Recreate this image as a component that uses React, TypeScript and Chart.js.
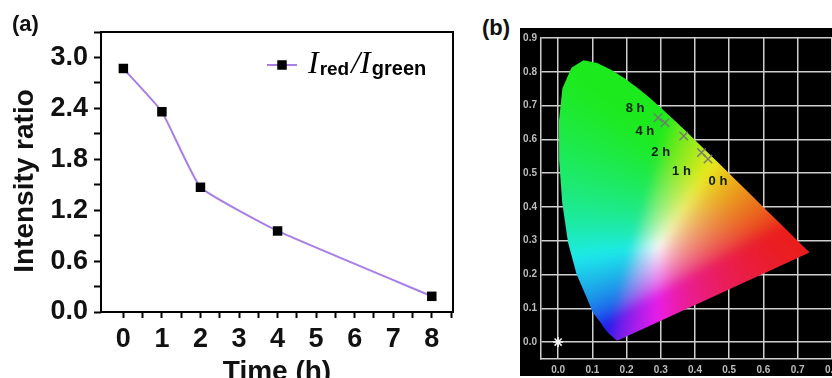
import React, { useEffect, useRef } from "react";
import { Chart, registerables } from "chart.js";

Chart.register(...registerables);

// ---------- Panel (a) data ----------
const TIME_H = [0, 1, 2, 4, 8];
const RATIO = [2.87, 2.36, 1.47, 0.955, 0.185];
const SERIES_LABEL = "Ired/Igreen";
const A_X_TICKS = [0, 0.5, 1, 1.5, 2, 2.5, 3, 3.5, 4, 4.5, 5, 5.5, 6, 6.5, 7, 7.5, 8, 8.5];
const A_Y_TICKS = [0, 0.3, 0.6, 0.9, 1.2, 1.5, 1.8, 2.1, 2.4, 2.7, 3.0, 3.3];

// ---------- Panel (b) data ----------
const LOCUS_X = [
  0.1741, 0.174, 0.1738, 0.1736, 0.1733, 0.173, 0.1726, 0.1721,
  0.1714, 0.1703, 0.1689, 0.1669, 0.1644, 0.1611, 0.1566, 0.151, 0.144, 0.1355, 0.1241, 0.102,
  0.083, 0.054, 0.029, 0.012, 0.003, 0.0025, 0.0125, 0.0389, 0.0743,
  0.1142, 0.1547, 0.1929, 0.2296, 0.2658, 0.3016, 0.3373, 0.3731, 0.4087, 0.4441, 0.4788, 0.5125, 0.5448, 0.5752, 0.6029, 0.627,
  0.6482, 0.6658, 0.6801, 0.6915, 0.7006, 0.7079,
  0.719, 0.726, 0.73, 0.7334, 0.7347,
];
const LOCUS_Y = [
  0.005, 0.005, 0.0049, 0.0049, 0.0048, 0.0048, 0.0048, 0.0048,
  0.0051, 0.0058, 0.0069, 0.0086, 0.0109, 0.0138, 0.0177, 0.0227, 0.0297, 0.0399, 0.0578, 0.0868,
  0.1327, 0.2007, 0.295, 0.4127, 0.5384, 0.6548, 0.7502, 0.812, 0.8338,
  0.8262, 0.8059, 0.7816, 0.7543, 0.7243, 0.6923, 0.6589, 0.6245, 0.5896, 0.5547, 0.5202, 0.4866, 0.4544, 0.4242, 0.3965, 0.3725,
  0.3514, 0.334, 0.3197, 0.3083, 0.2993, 0.292,
  0.2809, 0.274, 0.27, 0.2666, 0.2653,
];
const SAMPLE_LABELS = ["0 h", "1 h", "2 h", "4 h", "8 h"];
const SAMPLE_X = [0.438, 0.419, 0.367, 0.312, 0.292];
const SAMPLE_Y = [0.542, 0.561, 0.61, 0.649, 0.664];
const REF_X = [0];
const REF_Y = [0];
const B_X_TICKS = [0, 0.1, 0.2, 0.3, 0.4, 0.5, 0.6, 0.7, 0.8];
const B_Y_TICKS = [0, 0.1, 0.2, 0.3, 0.4, 0.5, 0.6, 0.7, 0.8, 0.9];

const SANS = '"Liberation Sans", Arial, sans-serif';
const SERIF = '"Liberation Serif", "Times New Roman", serif';
const LINE_COLOR = "#a97fe6";

// ---------- helpers ----------
function srgbGamma(v: number) {
  return v <= 0.0031308 ? 12.92 * v : 1.055 * Math.pow(v, 1 / 2.4) - 0.055;
}
function xyToLinear(cx: number, cy: number) {
  const yy = Math.max(cy, 0.002);
  const X = cx / yy;
  const Z = (1 - cx - yy) / yy;
  return [
    3.2406 * X - 1.5372 - 0.4986 * Z,
    -0.9689 * X + 1.8758 + 0.0415 * Z,
    0.0557 * X - 0.204 + 1.057 * Z,
  ];
}
const WHITE = xyToLinear(0.295, 0.285);

const fixedTicks = (vals: number[]) => (s: any) => {
  s.ticks = vals.map((value) => ({ value }));
};

// ---------- plugins ----------
const frameA = {
  id: "frameA",
  afterDraw(chart: any) {
    const { ctx, chartArea: a } = chart;
    ctx.save();
    ctx.strokeStyle = "#000";
    ctx.lineWidth = 2;
    ctx.strokeRect(a.left, a.top, a.right - a.left, a.bottom - a.top);

    ctx.fillStyle = "#111";
    ctx.font = `bold 28px ${SANS}`;
    ctx.textAlign = "center";
    ctx.textBaseline = "middle";
    ctx.translate(25, (a.top + a.bottom) / 2 + 9);
    ctx.rotate(-Math.PI / 2);
    ctx.fillText("Intensity ratio", 0, 0);
    ctx.restore();

    ctx.save();
    const ds = chart.data.datasets[0];
    const ly = a.top + 33;
    const lx = a.right - 186;
    ctx.strokeStyle = ds.borderColor;
    ctx.lineWidth = 2;
    ctx.beginPath();
    ctx.moveTo(lx, ly);
    ctx.lineTo(lx + 30, ly);
    ctx.stroke();
    ctx.fillStyle = "#000";
    ctx.fillRect(lx + 15 - 4.75, ly - 4.75, 9.5, 9.5);
    ctx.textBaseline = "alphabetic";
    ctx.textAlign = "left";
    let x = lx + 41;
    const base = ly + 8;
    const parts: [string, string, number][] = [
      ["I", `italic 32px ${SERIF}`, 0],
      ["red", `bold 19px ${SANS}`, 2],
      ["/", `italic 32px ${SERIF}`, 0],
      ["I", `italic 32px ${SERIF}`, 0],
      ["green", `bold 20px ${SANS}`, 2],
    ];
    parts.forEach(([t, f, dy], i) => {
      ctx.font = f;
      ctx.fillText(t, x, base + dy);
      x += ctx.measureText(t).width + (i === 0 || i === 3 ? 1 : i === 1 ? 2 : 0);
    });
    ctx.restore();
  },
};

const cieFill = {
  id: "cieFill",
  beforeDatasetsDraw(chart: any) {
    const { ctx, chartArea: a, scales } = chart;
    const sx = scales.x;
    const sy = scales.y;
    const w = Math.ceil(a.right - a.left);
    const h = Math.ceil(a.bottom - a.top);
    const off = document.createElement("canvas");
    off.width = w;
    off.height = h;
    const octx = off.getContext("2d")!;
    const img = octx.createImageData(w, h);
    const d = img.data;
    for (let j = 0; j < h; j++) {
      const cy = sy.getValueForPixel(a.top + j + 0.5);
      for (let i = 0; i < w; i++) {
        const cx = sx.getValueForPixel(a.left + i + 0.5);
        const lin = xyToLinear(cx, cy);
        let r = Math.max(lin[0] / WHITE[0], 0);
        let g = Math.max(lin[1] / WHITE[1], 0);
        let b = Math.max(lin[2] / WHITE[2], 0);
        const m = Math.max(r, g, b, 1e-6);
        r /= m; g /= m; b /= m;
        b = Math.pow(b, 1.5);
        r = Math.pow(r, 1.15);
        const mn = Math.min(r, g, b);
        const bright = 1 - 0.18 * (1 - mn);
        const fl = 0.015;
        r = (fl + (1 - fl) * r) * bright;
        g = (fl + (1 - fl) * g) * bright;
        b = (fl + (1 - fl) * b) * bright;
        const k = (j * w + i) * 4;
        d[k] = Math.round(255 * srgbGamma(r));
        d[k + 1] = Math.round(255 * srgbGamma(g));
        d[k + 2] = Math.round(255 * srgbGamma(b));
        d[k + 3] = 255;
      }
    }
    octx.putImageData(img, 0, 0);
    const pts = chart.getDatasetMeta(0).data;
    ctx.save();
    ctx.beginPath();
    pts.forEach((p: any, k: number) => (k ? ctx.lineTo(p.x, p.y) : ctx.moveTo(p.x, p.y)));
    ctx.closePath();
    ctx.clip();
    ctx.filter = "blur(5px)";
    ctx.drawImage(off, a.left, a.top);
    ctx.filter = "none";
    ctx.restore();
  },
  afterDatasetsDraw(chart: any) {
    const { ctx } = chart;
    const offsets = [[10, 22], [-20, 19], [-23, 16], [-20, 9], [-23, -9]];
    const pts = chart.getDatasetMeta(1).data;
    ctx.save();
    ctx.font = `bold 13px ${SANS}`;
    ctx.fillStyle = "#0b1f0b";
    ctx.textAlign = "center";
    ctx.textBaseline = "middle";
    pts.forEach((p: any, k: number) => {
      ctx.fillText(SAMPLE_LABELS[k], p.x + offsets[k][0], p.y + offsets[k][1]);
    });
    ctx.restore();
  },
};

export default function App() {
  const aRef = useRef<HTMLCanvasElement>(null);
  const bRef = useRef<HTMLCanvasElement>(null);

  useEffect(() => {
    const A_H = 400;
    const chartA = new Chart(aRef.current!, {
      type: "scatter",
      data: {
        datasets: [
          {
            label: SERIES_LABEL,
            data: TIME_H.map((t, i) => ({ x: t, y: RATIO[i] })),
            showLine: true,
            borderColor: LINE_COLOR,
            borderWidth: 2,
            tension: 0.12,
            pointStyle: "rect",
            pointRadius: 6.7,
            pointBackgroundColor: "#000",
            pointBorderWidth: 0,
          },
        ],
      },
      options: {
        responsive: false,
        animation: false,
        events: [],
        layout: { padding: { top: 32, right: 17, left: 0, bottom: 0 } },
        plugins: { legend: { display: false }, tooltip: { enabled: false } },
        scales: {
          x: {
            type: "linear",
            bounds: "data",
            min: -0.58,
            max: 8.55,
            afterBuildTicks: fixedTicks(A_X_TICKS),
            afterFit: (s: any) => { s.height = A_H - 312; },
            ticks: {
              autoSkip: false,
              maxRotation: 0,
              padding: 5,
              color: "#111",
              font: { family: SANS, size: 27, weight: "bold" },
              callback: (v: any) => (Number.isInteger(v) ? String(v) : ""),
            },
            grid: { drawOnChartArea: false, drawTicks: true, tickLength: 6, tickWidth: 2, color: "#000" },
            border: { display: false },
            title: {
              display: true,
              text: "Time (h)",
              color: "#111",
              font: { family: SANS, size: 28, weight: "bold" },
              padding: { top: 0, bottom: 11 },
            },
          },
          y: {
            type: "linear",
            bounds: "data",
            min: 0,
            max: 3.3,
            afterBuildTicks: fixedTicks(A_Y_TICKS),
            afterFit: (s: any) => { s.width = 101; },
            ticks: {
              autoSkip: false,
              padding: 6,
              color: "#111",
              font: { family: SANS, size: 27, weight: "bold" },
              callback: (v: any) => (Math.round(v * 10) % 6 === 0 ? Number(v).toFixed(1) : ""),
            },
            grid: { drawOnChartArea: false, drawTicks: true, tickLength: 7, tickWidth: 2, color: "#000" },
            border: { display: false },
          },
        },
      },
      plugins: [frameA],
    } as any);

    const B_H = 348;
    const gridC = "#cfcfcf";
    const tickFont = { family: SANS, size: 10, weight: "bold" };
    const chartB = new Chart(bRef.current!, {
      type: "scatter",
      data: {
        datasets: [
          {
            label: "locus",
            data: LOCUS_X.map((x, i) => ({ x, y: LOCUS_Y[i] })),
            pointRadius: 0,
            showLine: false,
          },
          {
            label: "samples",
            data: SAMPLE_X.map((x, i) => ({ x, y: SAMPLE_Y[i] })),
            pointStyle: "crossRot",
            pointRadius: 6,
            borderColor: "rgba(115,115,115,0.9)",
            pointBorderWidth: 1.5,
          },
          {
            label: "ref",
            data: REF_X.map((x, i) => ({ x, y: REF_Y[i] })),
            pointStyle: "star",
            pointRadius: 5,
            borderColor: "#f4f4f4",
            pointBorderWidth: 1.5,
          },
        ],
      },
      options: {
        responsive: false,
        animation: false,
        events: [],
        layout: { padding: { top: 5, right: 11, left: 0, bottom: 0 } },
        plugins: { legend: { display: false }, tooltip: { enabled: false } },
        scales: {
          x: {
            type: "linear",
            bounds: "data",
            min: -0.05,
            max: 0.85,
            afterBuildTicks: fixedTicks(B_X_TICKS),
            afterFit: (s: any) => { s.height = B_H - 331; },
            ticks: {
              autoSkip: false,
              maxRotation: 0,
              padding: 5,
              color: "#bdbdbd",
              font: tickFont,
              callback: (v: any) => Number(v).toFixed(1),
            },
            grid: { color: gridC, lineWidth: 1.5, drawTicks: false },
            border: { display: true, color: gridC, width: 1.5 },
          },
          y: {
            type: "linear",
            bounds: "data",
            min: -0.05,
            max: 0.9,
            afterBuildTicks: fixedTicks(B_Y_TICKS),
            afterFit: (s: any) => { s.width = 21; },
            ticks: {
              autoSkip: false,
              padding: 4,
              color: "#bdbdbd",
              font: tickFont,
              callback: (v: any) => Number(v).toFixed(1),
            },
            grid: { color: gridC, lineWidth: 1.5, drawTicks: false },
            border: { display: true, color: gridC, width: 1.5 },
          },
        },
      },
      plugins: [cieFill],
    } as any);

    return () => {
      chartA.destroy();
      chartB.destroy();
    };
  }, []);

  const panelLabel: React.CSSProperties = {
    position: "absolute",
    fontFamily: SANS,
    fontWeight: "bold",
    fontSize: 22,
    lineHeight: "22px",
    color: "#111",
  };

  return (
    <div style={{ position: "absolute", left: 0, top: 0, width: 832, height: 378, overflow: "hidden", background: "#fff" }}>
      <canvas ref={aRef} width={470} height={400} style={{ position: "absolute", left: 0, top: 0, width: 470, height: 400 }} />
      <div style={{ position: "absolute", left: 520, top: 28, width: 312, height: 348, overflow: "hidden", background: "#000" }}>
        <canvas ref={bRef} width={340} height={348} style={{ position: "absolute", left: 0, top: 0, width: 340, height: 348 }} />
      </div>
      <div style={{ ...panelLabel, left: 12, top: 13 }}>(a)</div>
      <div style={{ ...panelLabel, left: 482, top: 17 }}>(b)</div>
    </div>
  );
}
